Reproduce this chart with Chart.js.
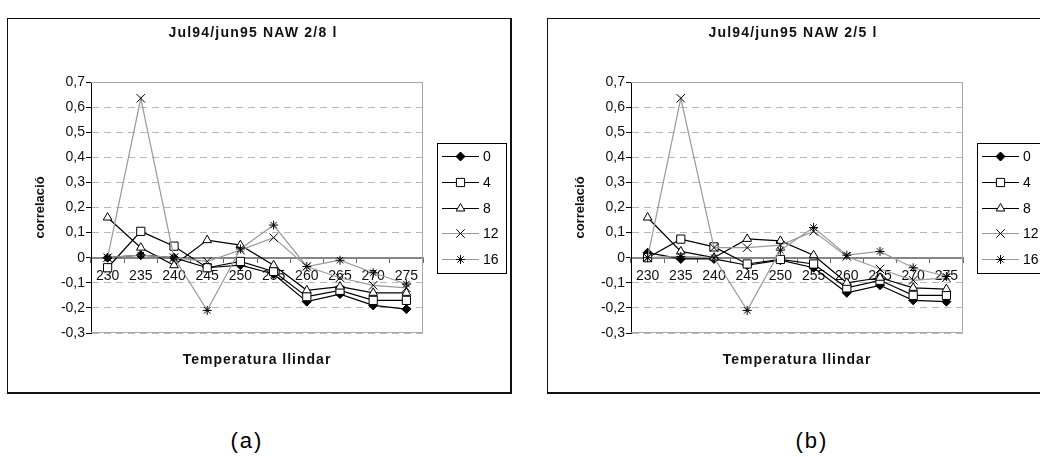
<!DOCTYPE html>
<html>
<head>
<meta charset="utf-8">
<script src="https://cdn.jsdelivr.net/npm/chart.js@4.4.1/dist/chart.umd.min.js"></script>
<style>
  html, body { margin: 0; padding: 0; background: #fff; }
  body { width: 1040px; height: 457px; overflow: hidden; position: relative;
         font-family: "Liberation Sans", Arial, sans-serif; }
  canvas { position: absolute; top: 19px; }
  .frame { position: absolute; top: 18px; width: 505px; height: 376px; box-sizing: border-box;
           border: 1px solid #111; border-right-width: 2px; border-bottom-width: 2px; pointer-events: none; }
  .cap { position: absolute; top: 428px; width: 80px; text-align: center; font-size: 22px;
         letter-spacing: 2px; color: #000; }
</style>
</head>
<body>
<canvas id="chartA" width="503" height="374" style="left:8px"></canvas>
<div class="frame" style="left:7px"></div>
<canvas id="chartB" width="503" height="374" style="left:548px"></canvas>
<div class="frame" style="left:547px"></div>
<div class="cap" style="left:207px">(a)</div>
<div class="cap" style="left:772px">(b)</div>

<script>
// Threshold temperatures (x categories) and the lag of each series
const temperatures = ['230', '235', '240', '245', '250', '255', '260', '265', '270', '275'];
const lags = ['0', '4', '8', '12', '16'];

// Correlation axis range
const corrMin = -0.3;
const corrMax = 0.7;
const corrStep = 0.1;

// Panel (a): Jul94/jun95 NAW 2/8 l
const a_lag0  = [0.00, 0.01, 0.00, -0.04, -0.03, -0.065, -0.175, -0.145, -0.19, -0.205];
const a_lag4  = [-0.04, 0.105, 0.046, -0.04, -0.015, -0.055, -0.155, -0.13, -0.17, -0.17];
const a_lag8  = [0.16, 0.04, -0.03, 0.07, 0.05, -0.03, -0.13, -0.115, -0.14, -0.14];
const a_lag12 = [0.00, 0.635, 0.00, -0.015, 0.03, 0.08, -0.035, -0.08, -0.11, -0.12];
const a_lag16 = [0.00, 0.01, 0.00, -0.21, 0.035, 0.13, -0.035, -0.01, -0.06, -0.105];

// Panel (b): Jul94/jun95 NAW 2/5 l
const b_lag0  = [0.02, -0.005, -0.005, -0.03, -0.01, -0.04, -0.14, -0.11, -0.17, -0.175];
const b_lag4  = [0.00, 0.074, 0.043, -0.025, -0.007, -0.025, -0.12, -0.09, -0.15, -0.15];
const b_lag8  = [0.16, 0.025, 0.00, 0.075, 0.067, 0.01, -0.10, -0.08, -0.12, -0.125];
const b_lag12 = [0.00, 0.635, 0.04, 0.04, 0.05, 0.105, 0.005, -0.045, -0.09, -0.08];
const b_lag16 = [0.00, 0.005, 0.00, -0.21, 0.03, 0.12, 0.01, 0.025, -0.04, -0.075];

// Line and marker look for each lag
const lagStyles = [
  { line: '#000000', width: 1.2, marker: 'rectRot',  fill: '#000000', radius: 4.5 },
  { line: '#000000', width: 1.2, marker: 'rect',     fill: '#ffffff', radius: 5.8 },
  { line: '#000000', width: 1.2, marker: 'triangle', fill: '#ffffff', radius: 5 },
  { line: '#9a9a9a', width: 1.2, marker: 'crossRot', fill: '#000000', radius: 6 },
  { line: '#9a9a9a', width: 1.2, marker: 'star',     fill: '#000000', radius: 4.5 }
];

const FONT = '"Liberation Sans", Arial, sans-serif';
Chart.defaults.font.family = FONT;
Chart.defaults.color = '#000';

function commaDecimal(v) {
  if (Math.abs(v) < 1e-9) return '0';
  return v.toFixed(1).replace('.', ',');
}

// Solid grey frame along the top, right and bottom of the plot area
const plotFrame = {
  id: 'plotFrame',
  beforeDatasetsDraw(chart) {
    const { ctx, chartArea: a } = chart;
    const t = Math.round(a.top) + 0.5, r = Math.round(a.right) - 0.5, b = Math.round(a.bottom) - 0.5;
    ctx.save();
    ctx.strokeStyle = '#a6a6a6';
    ctx.lineWidth = 1;
    ctx.beginPath();
    ctx.moveTo(a.left, t); ctx.lineTo(r, t); ctx.lineTo(r, b); ctx.lineTo(a.left, b);
    ctx.stroke();
    ctx.restore();
  }
};

// Chart title and x-axis title, letter-spaced
const panelText = {
  id: 'panelText',
  afterDraw(chart, args, opts) {
    const { ctx, chartArea: a } = chart;
    const cx = (a.left + a.right) / 2;
    ctx.save();
    ctx.fillStyle = '#111';
    ctx.textAlign = 'center';
    ctx.textBaseline = 'middle';
    ctx.font = 'bold 14px ' + FONT;
    ctx.letterSpacing = '1.2px';
    ctx.fillText(opts.title, cx + opts.titleShift, opts.titleY);
    ctx.font = 'bold 14px ' + FONT;
    ctx.letterSpacing = '1px';
    ctx.fillText(opts.xTitle, cx, opts.xTitleY);
    ctx.restore();
  }
};

// Boxed key: line sample with marker, then the lag
const seriesKey = {
  id: 'seriesKey',
  afterDraw(chart, args, opts) {
    const ctx = chart.ctx;
    const { x, y, w, h, first, gap } = opts;
    ctx.save();
    ctx.fillStyle = '#fff';
    ctx.fillRect(x, y, w, h);
    ctx.strokeStyle = '#000';
    ctx.lineWidth = 1;
    ctx.strokeRect(x + 0.5, y + 0.5, w, h);
    ctx.font = '14px ' + FONT;
    ctx.textBaseline = 'middle';
    ctx.textAlign = 'left';
    chart.data.datasets.forEach((ds, i) => {
      const cy = Math.round(y + first + i * gap) + 0.5;
      ctx.strokeStyle = ds.borderColor;
      ctx.lineWidth = ds.borderWidth;
      ctx.beginPath();
      ctx.moveTo(x + 5, cy); ctx.lineTo(x + 42, cy);
      ctx.stroke();
      ctx.fillStyle = ds.pointBackgroundColor;
      ctx.strokeStyle = ds.pointBorderColor;
      ctx.lineWidth = ds.pointBorderWidth;
      Chart.helpers.drawPoint(ctx, { pointStyle: ds.pointStyle, radius: ds.pointRadius, rotation: 0,
                                     borderWidth: ds.pointBorderWidth }, x + 23.5, cy);
      ctx.fillStyle = '#000';
      ctx.fillText(ds.label, x + 46, cy + 1);
    });
    ctx.restore();
  }
};

function buildDatasets(seriesList) {
  return seriesList.map((values, i) => {
    const st = lagStyles[i];
    return {
      label: lags[i],
      data: values,
      borderColor: st.line,
      borderWidth: st.width,
      pointStyle: st.marker,
      pointRadius: st.radius,
      pointBackgroundColor: st.fill,
      pointBorderColor: '#000',
      pointBorderWidth: 1,
      tension: 0,
      fill: false,
      order: seriesList.length - i
    };
  });
}

function makePanel(canvasId, title, seriesList) {
  return new Chart(document.getElementById(canvasId), {
    type: 'line',
    data: { labels: temperatures, datasets: buildDatasets(seriesList) },
    plugins: [plotFrame, panelText, seriesKey],
    options: {
      responsive: false,
      animation: false,
      events: [],
      layout: { padding: { left: 0, right: 88, top: 63, bottom: 60 } },
      plugins: {
        legend: { display: false },
        tooltip: { enabled: false },
        panelText: { title: title, titleShift: -4, titleY: 14, xTitle: 'Temperatura llindar', xTitleY: 341 },
        seriesKey: { x: 429, y: 124, w: 69, h: 130, first: 13, gap: 25.8 }
      },
      scales: {
        x: {
          type: 'category',
          position: { y: 0 },
          offset: true,
          afterFit(s) { s.height = 0; },
          grid: { display: true, drawOnChartArea: false, drawTicks: true, offset: true,
                  tickLength: 4, tickColor: '#666', color: '#666' },
          border: { display: true, color: '#858585', width: 2 },
          ticks: { font: { size: 14 }, color: '#111', padding: 6, maxRotation: 0, autoSkip: false }
        },
        y: {
          min: corrMin,
          max: corrMax,
          afterFit(s) { s.width = 83; },
          grid: { color: '#b8b8b8', lineWidth: 1, tickColor: '#000', tickLength: 5 },
          border: { display: true, color: '#000', width: 1, dash: [7, 5] },
          ticks: { stepSize: corrStep, font: { size: 14 }, color: '#111', padding: 1, callback: commaDecimal },
          title: { display: true, text: 'correlació', font: { size: 13, weight: 'bold' }, color: '#111',
                   padding: { top: 25, bottom: 0 } }
        }
      }
    }
  });
}

makePanel('chartA', 'Jul94/jun95 NAW 2/8 l', [a_lag0, a_lag4, a_lag8, a_lag12, a_lag16]);
makePanel('chartB', 'Jul94/jun95 NAW 2/5 l', [b_lag0, b_lag4, b_lag8, b_lag12, b_lag16]);
</script>
</body>
</html>
